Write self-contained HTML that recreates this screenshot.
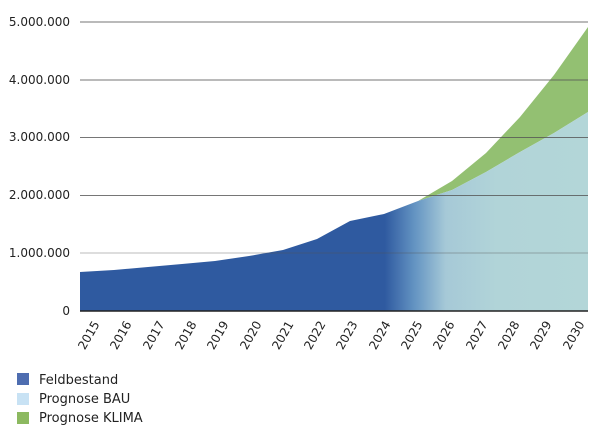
<!DOCTYPE html>
<html><head><meta charset="utf-8"><style>
body{margin:0;background:#fff;width:600px;height:430px;overflow:hidden;font-family:"Liberation Sans","DejaVu Sans",sans-serif;}
</style></head><body>
<svg width="600" height="430" xmlns="http://www.w3.org/2000/svg" font-family="DejaVu Sans, Liberation Sans, sans-serif">
<defs>
<linearGradient id="g" x1="80" x2="588" y1="0" y2="0" gradientUnits="userSpaceOnUse">
<stop offset="0" stop-color="#2f5aa0"/>
<stop offset="0.6" stop-color="#2f5aa0"/>
<stop offset="0.66" stop-color="#6595c3"/>
<stop offset="0.72" stop-color="#a6c9d7"/>
<stop offset="0.82" stop-color="#b1d4d8"/>
<stop offset="1" stop-color="#b3d6d8"/>
</linearGradient>
</defs>
<polygon fill="#93c072" points="418,201 452,181 486,153 520,117 554,75 588,27 588,112 554,133 520,152 486,172 452,190"/>
<polygon fill="url(#g)" points="80,272 114,270 148,267 182,264 215,261 249,256 283,250 317,239 350,221 384,214 418,201 452,190 486,172 520,152 554,133 588,112 588,311 80,311"/>
<g stroke="#555" stroke-width="1" opacity="0.8">
<line x1="80" x2="588" y1="22" y2="22"/>
<line x1="80" x2="588" y1="80" y2="80"/>
<line x1="80" x2="588" y1="137.5" y2="137.5"/>
<line x1="80" x2="588" y1="195.5" y2="195.5"/>
<line x1="80" x2="588" y1="253" y2="253" opacity="0.5"/>
</g>
<line x1="80" x2="588" y1="311" y2="311" stroke="#222" stroke-width="1.5"/>
<g font-size="12" fill="#222" text-anchor="end">
<text x="70" y="26">5.000.000</text>
<text x="70" y="84">4.000.000</text>
<text x="70" y="141">3.000.000</text>
<text x="70" y="199">2.000.000</text>
<text x="70" y="257">1.000.000</text>
<text x="70" y="315">0</text>
</g>
<g font-size="12" fill="#222" text-anchor="end">
<text transform="translate(100,324) rotate(-60)">2015</text>
<text transform="translate(132,324) rotate(-60)">2016</text>
<text transform="translate(165,324) rotate(-60)">2017</text>
<text transform="translate(197,324) rotate(-60)">2018</text>
<text transform="translate(229,324) rotate(-60)">2019</text>
<text transform="translate(262,324) rotate(-60)">2020</text>
<text transform="translate(294,324) rotate(-60)">2021</text>
<text transform="translate(326,324) rotate(-60)">2022</text>
<text transform="translate(358,324) rotate(-60)">2023</text>
<text transform="translate(391,324) rotate(-60)">2024</text>
<text transform="translate(423,324) rotate(-60)">2025</text>
<text transform="translate(455,324) rotate(-60)">2026</text>
<text transform="translate(488,324) rotate(-60)">2027</text>
<text transform="translate(520,324) rotate(-60)">2028</text>
<text transform="translate(552,324) rotate(-60)">2029</text>
<text transform="translate(585,324) rotate(-60)">2030</text>
</g>
<rect x="17" y="373" width="12" height="12" fill="#4e6db0"/>
<rect x="17" y="393" width="12" height="12" fill="#c8e2f4"/>
<rect x="17" y="412" width="12" height="12" fill="#8cb960"/>
<g font-size="13" fill="#222">
<text x="39" y="384">Feldbestand</text>
<text x="39" y="403">Prognose BAU</text>
<text x="39" y="422">Prognose KLIMA</text>
</g>
</svg>
</body></html>
